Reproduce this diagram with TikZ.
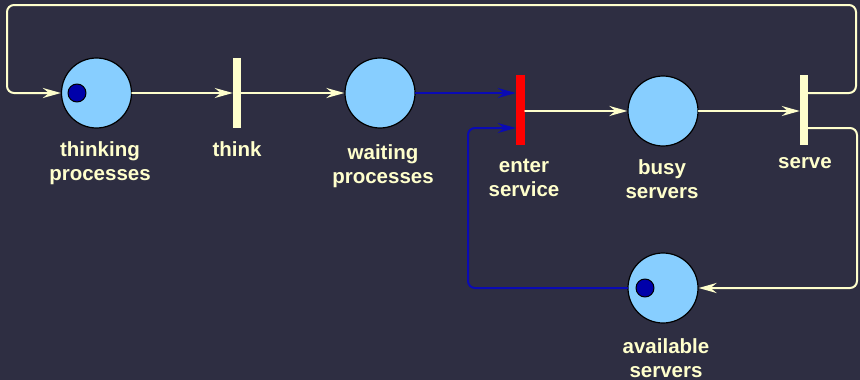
\documentclass[tikz,border=0pt]{standalone}
\usepackage{fontspec}
\setmainfont{Liberation Sans}
\usetikzlibrary{arrows.meta}
\definecolor{bgcol}{RGB}{46,46,66}
\definecolor{cream}{RGB}{255,255,204}
\definecolor{placecol}{RGB}{135,206,255}
\definecolor{tokcol}{RGB}{0,0,170}
\definecolor{darc}{RGB}{10,10,180}
\tikzset{
  place/.style={circle, draw=black, line width=1.2pt, fill=placecol, minimum size=70pt, inner sep=0pt},
  token/.style={circle, draw=black, line width=1pt, fill=tokcol, minimum size=18pt, inner sep=0pt},
  trans/.style={rectangle, fill=cream, minimum width=8pt, minimum height=70pt, inner sep=0pt},
  lbl/.style={text=cream, align=center, anchor=base, inner sep=0pt},
  arc/.style={draw=cream, line width=2pt, ->, rounded corners=7pt},
  barc/.style={draw=darc, line width=2pt, ->, rounded corners=7pt}
}
\begin{document}
\begin{tikzpicture}[x=1pt, y=-1pt, font=\bfseries\fontsize{20.5}{24}\selectfont, line join=round, line cap=round, >={Stealth[length=18pt, width=10pt, inset=6pt]}]
			\fill[bgcol] (0,0) rectangle (860,380);
			\useasboundingbox (0,0) rectangle (860,380);
			% places
			\node[place] (thinking) at (96.5,93) {};
			\node[place] (waiting) at (380,93) {};
			\node[place] (busy) at (663,111) {};
			\node[place] (avail) at (663,288) {};
			\node[token] (tokA) at (77,93) {};
			\node[token] (tokB) at (645,288) {};
			% transitions
			\node[trans] (think) at (237,93) {};
			\node[trans, fill=red, minimum width=9pt] (enter) at (520.5,110) {};
			\node[trans] (serve) at (804,110) {};
			% labels (base = last line)
			\node[lbl] (thinkingL) at (100,180) {thinking\\processes};
			\node[lbl] (thinkL) at (237,156) {think};
			\node[lbl] (waitingL) at (383,183) {waiting\\processes};
			\node[lbl] (enterL) at (524,196) {enter\\service};
			\node[lbl] (busyL) at (662,198) {busy\\servers};
			\node[lbl] (serveL) at (805,168) {serve};
			\node[lbl] (availL) at (666,377) {available\\servers};
			% corners of the arcs
			\coordinate (topR) at (856,5);
			\coordinate (topL) at (7,5);
			\coordinate (sideR) at (857,128);
			\coordinate (sideL) at (468,128);
			% arcs
			\draw[arc] (thinking) -- (think);
			\draw[arc] (think) -- (waiting);
			\draw[barc] (waiting.east) -- (waiting.east -| enter.west);
			\draw[arc] (enter.east |- busy) -- (busy.west);
			\draw[arc] (busy) -- (serve.west |- busy);
			\draw[arc] (serve.east |- thinking) -| (topR) -- (topL) |- (thinking.west);
			\draw[arc] (serve.east |- sideR) -- (sideR) |- (avail.east);
			\draw[barc] (avail.west) -| (sideL) -- (sideL -| enter.west);
		\end{tikzpicture}
\end{document}
